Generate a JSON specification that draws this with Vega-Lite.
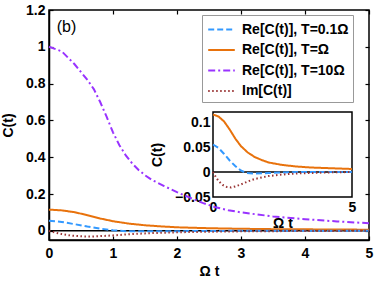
{
  "$schema": "https://vega.github.io/schema/vega-lite/v6.json",
  "width": 320,
  "height": 230,
  "autosize": "none",
  "padding": {"left": 49, "top": 10, "right": 5, "bottom": 41},
  "config": {
    "font": "Liberation Sans",
    "view": {"stroke": "black", "strokeWidth": 1.5},
    "axis": {
      "grid": false,
      "labelFont": "Liberation Sans",
      "labelFontWeight": "bold",
      "labelFontSize": 14,
      "labelColor": "black",
      "titleFont": "Liberation Sans",
      "titleFontWeight": "bold",
      "titleFontSize": 14,
      "titleColor": "black",
      "domainColor": "black",
      "domainWidth": 1.5,
      "tickColor": "black",
      "tickWidth": 1.2,
      "labelFlush": false,
      "labelOverlap": false
    },
    "legend": {
      "orient": "none",
      "legendX": 153,
      "legendY": 5,
      "fillColor": "white",
      "strokeColor": "#999999",
      "padding": 4,
      "rowPadding": 2.5,
      "symbolType": "M-1.4,0H1.4",
      "symbolSize": 361,
      "symbolStrokeWidth": 2,
      "symbolOffset": 5,
      "labelOffset": 10,
      "labelFont": "Liberation Sans",
      "labelFontWeight": "bold",
      "labelFontSize": 14,
      "labelColor": "black",
      "labelLimit": 300
    }
  },
  "datasets": {
    "curves": [
      {"s": "Re[C(t)], T=10Ω", "t": 0, "v": 1.0},
      {"s": "Re[C(t)], T=10Ω", "t": 0.2, "v": 0.975},
      {"s": "Re[C(t)], T=10Ω", "t": 0.4, "v": 0.905},
      {"s": "Re[C(t)], T=10Ω", "t": 0.6, "v": 0.82},
      {"s": "Re[C(t)], T=10Ω", "t": 0.7, "v": 0.77},
      {"s": "Re[C(t)], T=10Ω", "t": 0.8, "v": 0.70},
      {"s": "Re[C(t)], T=10Ω", "t": 0.9, "v": 0.62},
      {"s": "Re[C(t)], T=10Ω", "t": 1.0, "v": 0.535},
      {"s": "Re[C(t)], T=10Ω", "t": 1.1, "v": 0.465},
      {"s": "Re[C(t)], T=10Ω", "t": 1.2, "v": 0.41},
      {"s": "Re[C(t)], T=10Ω", "t": 1.3, "v": 0.366},
      {"s": "Re[C(t)], T=10Ω", "t": 1.4, "v": 0.331},
      {"s": "Re[C(t)], T=10Ω", "t": 1.5, "v": 0.302},
      {"s": "Re[C(t)], T=10Ω", "t": 1.6, "v": 0.278},
      {"s": "Re[C(t)], T=10Ω", "t": 1.8, "v": 0.243},
      {"s": "Re[C(t)], T=10Ω", "t": 2.0, "v": 0.21},
      {"s": "Re[C(t)], T=10Ω", "t": 2.2, "v": 0.18},
      {"s": "Re[C(t)], T=10Ω", "t": 2.4, "v": 0.152},
      {"s": "Re[C(t)], T=10Ω", "t": 2.6, "v": 0.128},
      {"s": "Re[C(t)], T=10Ω", "t": 2.8, "v": 0.112},
      {"s": "Re[C(t)], T=10Ω", "t": 3.0, "v": 0.1},
      {"s": "Re[C(t)], T=10Ω", "t": 3.5, "v": 0.078},
      {"s": "Re[C(t)], T=10Ω", "t": 4.0, "v": 0.063},
      {"s": "Re[C(t)], T=10Ω", "t": 4.5, "v": 0.051},
      {"s": "Re[C(t)], T=10Ω", "t": 5.0, "v": 0.041},
      {"s": "Re[C(t)], T=Ω", "t": 0, "v": 0.115},
      {"s": "Re[C(t)], T=Ω", "t": 0.2, "v": 0.111},
      {"s": "Re[C(t)], T=Ω", "t": 0.4, "v": 0.101},
      {"s": "Re[C(t)], T=Ω", "t": 0.6, "v": 0.085},
      {"s": "Re[C(t)], T=Ω", "t": 0.8, "v": 0.067},
      {"s": "Re[C(t)], T=Ω", "t": 1.0, "v": 0.052},
      {"s": "Re[C(t)], T=Ω", "t": 1.25, "v": 0.039},
      {"s": "Re[C(t)], T=Ω", "t": 1.5, "v": 0.030},
      {"s": "Re[C(t)], T=Ω", "t": 1.75, "v": 0.024},
      {"s": "Re[C(t)], T=Ω", "t": 2.0, "v": 0.019},
      {"s": "Re[C(t)], T=Ω", "t": 2.5, "v": 0.014},
      {"s": "Re[C(t)], T=Ω", "t": 3.0, "v": 0.011},
      {"s": "Re[C(t)], T=Ω", "t": 3.5, "v": 0.009},
      {"s": "Re[C(t)], T=Ω", "t": 4.0, "v": 0.008},
      {"s": "Re[C(t)], T=Ω", "t": 4.5, "v": 0.007},
      {"s": "Re[C(t)], T=Ω", "t": 5.0, "v": 0.006},
      {"s": "Re[C(t)], T=0.1Ω", "t": 0, "v": 0.055},
      {"s": "Re[C(t)], T=0.1Ω", "t": 0.2, "v": 0.048},
      {"s": "Re[C(t)], T=0.1Ω", "t": 0.4, "v": 0.036},
      {"s": "Re[C(t)], T=0.1Ω", "t": 0.6, "v": 0.023},
      {"s": "Re[C(t)], T=0.1Ω", "t": 0.8, "v": 0.012},
      {"s": "Re[C(t)], T=0.1Ω", "t": 1.0, "v": 0.003},
      {"s": "Re[C(t)], T=0.1Ω", "t": 1.2, "v": -0.002},
      {"s": "Re[C(t)], T=0.1Ω", "t": 1.5, "v": -0.003},
      {"s": "Re[C(t)], T=0.1Ω", "t": 2.0, "v": -0.002},
      {"s": "Re[C(t)], T=0.1Ω", "t": 2.5, "v": -0.001},
      {"s": "Re[C(t)], T=0.1Ω", "t": 3.0, "v": 0},
      {"s": "Re[C(t)], T=0.1Ω", "t": 4.0, "v": 0},
      {"s": "Re[C(t)], T=0.1Ω", "t": 5.0, "v": 0},
      {"s": "Im[C(t)]", "t": 0, "v": 0},
      {"s": "Im[C(t)]", "t": 0.1, "v": -0.010},
      {"s": "Im[C(t)]", "t": 0.2, "v": -0.018},
      {"s": "Im[C(t)]", "t": 0.35, "v": -0.026},
      {"s": "Im[C(t)]", "t": 0.5, "v": -0.030},
      {"s": "Im[C(t)]", "t": 0.65, "v": -0.031},
      {"s": "Im[C(t)]", "t": 0.8, "v": -0.029},
      {"s": "Im[C(t)]", "t": 1.0, "v": -0.025},
      {"s": "Im[C(t)]", "t": 1.25, "v": -0.019},
      {"s": "Im[C(t)]", "t": 1.5, "v": -0.014},
      {"s": "Im[C(t)]", "t": 1.75, "v": -0.011},
      {"s": "Im[C(t)]", "t": 2.0, "v": -0.008},
      {"s": "Im[C(t)]", "t": 2.5, "v": -0.005},
      {"s": "Im[C(t)]", "t": 3.0, "v": -0.003},
      {"s": "Im[C(t)]", "t": 3.5, "v": -0.002},
      {"s": "Im[C(t)]", "t": 4.0, "v": -0.001},
      {"s": "Im[C(t)]", "t": 5.0, "v": 0}
    ]
  },
  "layer": [
    {
      "layer": [
        {
          "data": {"values": [{}]},
          "mark": {"type": "rule", "color": "black", "strokeWidth": 1.5},
          "encoding": {
            "y": {"datum": 0, "type": "quantitative", "scale": {"domain": [-0.05, 1.2], "nice": false, "zero": false},
              "axis": {"orient": "right", "title": null, "values": [0, 0.2, 0.4, 0.6, 0.8, 1, 1.2], "tickCount": 20, "labels": false, "domain": false, "tickSize": -4}}
          }
        },
        {
          "data": {"name": "curves"},
          "mark": {"type": "line", "strokeWidth": 2},
          "encoding": {
            "x": {"field": "t", "type": "quantitative", "scale": {"domain": [0, 5], "nice": false, "zero": false},
              "axis": {"orient": "bottom", "title": "Ω t", "values": [0, 1, 2, 3, 4, 5], "tickCount": 20, "format": "~g", "tickSize": -4, "labelPadding": 10, "titlePadding": 4, "labelOverlap": false}},
            "y": {"field": "v", "type": "quantitative", "scale": {"domain": [-0.05, 1.2], "nice": false, "zero": false},
              "axis": {"orient": "left", "title": "C(t)", "values": [0, 0.2, 0.4, 0.6, 0.8, 1, 1.2], "tickCount": 20, "format": "~g", "tickSize": -4, "labelPadding": 8, "titlePadding": 10, "labelOverlap": false}},
            "color": {"field": "s", "type": "nominal", "title": null,
              "scale": {"domain": ["Re[C(t)], T=0.1Ω", "Re[C(t)], T=Ω", "Re[C(t)], T=10Ω", "Im[C(t)]"],
                        "range": ["#3399ff", "#e8720c", "#9933ff", "#993333"]}},
            "strokeDash": {"field": "s", "type": "nominal", "title": null,
              "scale": {"domain": ["Re[C(t)], T=0.1Ω", "Re[C(t)], T=Ω", "Re[C(t)], T=10Ω", "Im[C(t)]"],
                        "range": [[6, 3], [1, 0], [7, 3, 2, 3], [1.5, 2.5]]}}
          }
        },
        {
          "data": {"values": [{}]},
          "mark": {"type": "text", "text": "(b)", "font": "Liberation Sans", "fontSize": 16, "fontWeight": "normal", "align": "left", "baseline": "middle", "color": "black"},
          "encoding": {
            "x": {"datum": 0.12, "type": "quantitative",
              "axis": {"orient": "top", "title": null, "values": [0, 1, 2, 3, 4, 5], "tickCount": 20, "labels": false, "domain": false, "tickSize": -4}},
            "y": {"datum": 1.11, "type": "quantitative", "axis": null}
          }
        }
      ],
      "resolve": {"axis": {"x": "independent", "y": "independent"}}
    },
    {
      "layer": [
        {
          "data": {"values": [{}]},
          "mark": {"type": "rect", "fill": "white", "stroke": "black", "strokeWidth": 1.5},
          "encoding": {
            "x": {"datum": 0, "type": "quantitative", "scale": {"domain": [0, 5], "range": [164, 303], "nice": false, "zero": false},
              "axis": {"orient": "bottom", "offset": -43, "title": "Ω t", "values": [0, 5], "tickCount": 20, "format": "~g", "domain": false, "ticks": false, "labelPadding": 3, "titlePadding": 2, "labelOverlap": false}},
            "x2": {"datum": 5},
            "y": {"datum": -0.05, "type": "quantitative", "scale": {"domain": [-0.05, 0.12], "range": [187, 102], "nice": false, "zero": false},
              "axis": {"orient": "left", "offset": -164, "title": "C(t)", "values": [-0.05, 0, 0.05, 0.1], "tickCount": 20, "format": "~g", "domain": false, "ticks": false, "labelPadding": 3, "titlePadding": 10, "labelOverlap": false}},
            "y2": {"datum": 0.12}
          }
        },
        {
          "data": {"values": [{}]},
          "mark": {"type": "rule", "color": "black", "strokeWidth": 1.5},
          "encoding": {
            "x": {"datum": 0, "type": "quantitative"},
            "x2": {"datum": 5},
            "y": {"datum": 0, "type": "quantitative"}
          }
        },
        {
          "data": {"name": "curves"},
          "transform": [{"filter": "datum.s !== 'Re[C(t)], T=10Ω'"}],
          "mark": {"type": "line", "strokeWidth": 2},
          "encoding": {
            "x": {"field": "t", "type": "quantitative"},
            "y": {"field": "v", "type": "quantitative"},
            "color": {"field": "s", "type": "nominal", "title": null},
            "strokeDash": {"field": "s", "type": "nominal", "title": null}
          }
        }
      ]
    }
  ],
  "resolve": {"scale": {"x": "independent", "y": "independent"}}
}
